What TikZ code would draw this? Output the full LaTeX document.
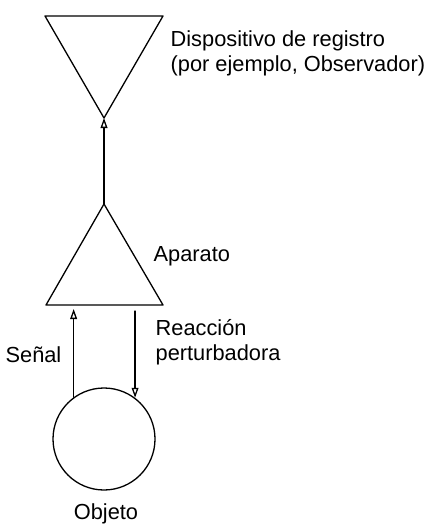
\documentclass[tikz,border=0pt]{standalone}
\usepackage{fontspec}
\setmainfont{Liberation Sans}
\usetikzlibrary{arrows.meta}
\begin{document}
\begin{tikzpicture}[x=0.5pt,y=-0.5pt,>={Triangle[open,length=5pt,width=3.4pt]},
		line width=0.65pt, line join=round, line cap=round,
		lbl/.style={font=\fontsize{10.9}{12.5}\selectfont,align=left,inner sep=0pt}]
	\useasboundingbox (0,0) rectangle (429,524);
	\def\xc{104}
	% dispositivo de registro
	\coordinate (regL) at (45,16);
	\coordinate (regR) at (163,16);
	\coordinate (reg) at (\xc,118);
	\draw (regL)--(regR)--(reg)--cycle;
	% aparato
	\coordinate (apa) at (\xc,204);
	\coordinate (apaL) at (46,305);
	\coordinate (apaR) at (163,305);
	\draw (apa)--(apaR)--(apaL)--cycle;
	% objeto
	\node[circle,draw,minimum size=51pt,inner sep=0pt] (obj) at (\xc,439) {};
	\coordinate (sen) at (74,309);
	\coordinate (rea) at (135,311);
	\draw[->] (apa)--(reg);
	\draw[->] (obj.126)--(obj.126 |- sen);
	\draw[->] (obj.53 |- rea)--(obj.53);
	\node[lbl,anchor=west] (regtxt) at (170,53.5) {Dispositivo de registro\\(por ejemplo, Observador)};
	\node[lbl,anchor=west] (apatxt) at (153,256) {Aparato};
	\node[lbl,anchor=west] (reatxt) at (155,342) {Reacción\\perturbadora};
	\node[lbl,anchor=east] (sentxt) at (62,355) {Señal};
	\node[lbl] (objtxt) at (106,514) {Objeto};
\end{tikzpicture}
\end{document}
